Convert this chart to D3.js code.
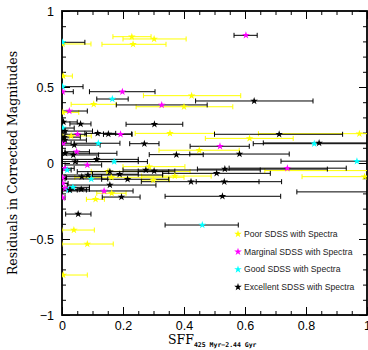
<!DOCTYPE html>
<html>
<head>
<meta charset="utf-8">
<script src="https://cdnjs.cloudflare.com/ajax/libs/d3/7.8.5/d3.min.js"></script>
<style>
  body { margin: 0; background: #fff; }
  svg { display: block; }
  .tick text { font-family: "Liberation Sans", Arial, sans-serif; font-size: 12.5px; fill: #000; }
</style>
</head>
<body>
<div id="chart"></div>
<script>
// each row: [sff, residual, errLow, errHigh]
var poor = [
    [0.229, 0.831, 0.167, 0.292],
    [0.302, 0.816, 0.200, 0.407],
    [0.233, 0.781, 0.131, 0.341],
    [0.002, 0.783, 0.000, 0.095],
    [0.004, 0.572, 0.000, 0.034],
    [0.425, 0.443, 0.267, 0.586],
    [0.104, 0.386, 0.030, 0.178],
    [0.400, 0.370, 0.243, 0.560],
    [0.003, 0.333, 0.000, 0.055],
    [0.354, 0.195, 0.240, 0.500],
    [0.975, 0.193, 0.644, 1.050],
    [0.615, 0.162, 0.470, 0.758],
    [0.450, 0.084, 0.318, 0.581],
    [0.030, 0.178, 0.003, 0.096],
    [0.992, -0.090, 0.787, 1.050],
    [1.060, -0.050, 0.665, 1.300],
    [0.286, -0.024, 0.200, 0.403],
    [0.370, -0.086, 0.261, 0.489],
    [0.299, -0.112, 0.261, 0.352],
    [0.151, -0.055, 0.096, 0.420],
    [0.162, -0.094, 0.042, 0.400],
    [0.163, -0.199, 0.114, 0.210],
    [0.110, -0.239, 0.080, 0.139],
    [0.039, -0.441, 0.000, 0.106],
    [0.083, -0.533, 0.000, 0.168],
    [0.004, -0.737, 0.000, 0.083]
];

var marginal = [
    [0.603, 0.840, 0.564, 0.640],
    [0.002, 0.469, 0.000, 0.037],
    [0.198, 0.469, 0.090, 0.305],
    [0.327, 0.382, 0.178, 0.476],
    [0.024, 0.342, 0.000, 0.083],
    [0.518, 0.110, 0.420, 0.614],
    [0.739, -0.034, 0.548, 0.932],
    [0.192, 0.189, 0.136, 0.230],
    [0.051, 0.189, 0.010, 0.080],
    [0.083, -0.013, 0.010, 0.130],
    [0.003, -0.134, 0.000, 0.020],
    [0.138, -0.184, 0.002, 0.233],
    [0.002, -0.228, 0.000, 0.010],
    [0.002, -0.097, 0.000, 0.015],
    [0.004, 0.130, 0.000, 0.030],
    [0.048, 0.074, 0.010, 0.090],
    [0.010, -0.035, 0.000, 0.040],
    [0.010, -0.166, 0.000, 0.030]
];

var good = [
    [0.002, 0.794, 0.000, 0.075],
    [0.002, 0.502, 0.000, 0.069],
    [0.165, 0.421, 0.114, 0.217],
    [0.827, 0.127, 0.627, 1.050],
    [0.967, 0.012, 0.718, 1.050],
    [0.460, -0.408, 0.338, 0.578],
    [0.003, 0.230, 0.000, 0.040],
    [0.017, -0.046, 0.000, 0.030],
    [0.096, -0.105, 0.010, 0.150],
    [0.036, -0.160, 0.000, 0.090],
    [0.119, 0.130, 0.040, 0.190],
    [0.171, 0.009, 0.050, 0.280],
    [0.021, -0.178, 0.000, 0.050]
];

var excellent = [
    [0.630, 0.408, 0.438, 0.823],
    [0.061, 0.257, 0.026, 0.095],
    [0.303, 0.255, 0.210, 0.396],
    [0.712, 0.189, 0.500, 0.920],
    [0.270, 0.127, 0.222, 0.318],
    [0.375, 0.055, 0.286, 0.463],
    [0.582, 0.059, 0.419, 0.745],
    [0.843, 0.132, 0.660, 1.050],
    [0.117, 0.195, 0.075, 0.176],
    [0.152, 0.191, 0.136, 0.228],
    [0.275, -0.046, 0.200, 0.650],
    [0.302, -0.053, 0.250, 0.370],
    [0.534, -0.040, 0.444, 0.870],
    [0.507, -0.068, 0.330, 0.683],
    [0.423, -0.123, 0.260, 0.646],
    [0.532, -0.123, 0.440, 0.720],
    [0.526, -0.219, 0.338, 0.717],
    [0.215, -0.107, 0.130, 0.350],
    [0.195, -0.224, 0.132, 0.256],
    [0.053, -0.336, 0.012, 0.095],
    [0.063, -0.173, 0.000, 0.090],
    [0.085, -0.079, 0.000, 0.330],
    [0.189, -0.074, 0.100, 0.250],
    [1.060, -0.190, 0.770, 1.300],
    [0.010, 0.064, 0.000, 0.180],
    [0.037, 0.053, 0.000, 0.120],
    [0.114, 0.024, 0.000, 0.250],
    [0.043, 0.009, 0.000, 0.250],
    [0.065, -0.090, 0.010, 0.130],
    [0.157, -0.057, 0.050, 0.350],
    [0.010, 0.151, 0.000, 0.080],
    [0.007, 0.170, 0.000, 0.060],
    [0.040, 0.118, 0.000, 0.125],
    [0.157, -0.145, 0.017, 0.308],
    [0.026, -0.178, 0.000, 0.080],
    [0.005, 0.270, 0.000, 0.050],
    [0.010, 0.210, 0.000, 0.100]
];

var groups = [
    {name: "Poor SDSS with Spectra", rows: poor, color: "#ffff00", bar: "#ffff00"},
    {name: "Marginal SDSS with Spectra", rows: marginal, color: "#ff00ff", bar: "#000"},
    {name: "Good SDSS with Spectra", rows: good, color: "#00ffff", bar: "#000"},
    {name: "Excellent SDSS with Spectra", rows: excellent, color: "#000", bar: "#000"}
];

var xTicks = [0, 0.2, 0.4, 0.6, 0.8, 1];
var yTicks = [-1, -0.5, 0, 0.5, 1];

var width = 368, height = 350,
    m = {left: 62, right: 367, top: 11, bottom: 315};

var x = d3.scaleLinear().domain([0, 1]).range([m.left, m.right]);
var y = d3.scaleLinear().domain([-1, 1]).range([m.bottom, m.top]);

var svg = d3.select("#chart").append("svg")
    .attr("width", width)
    .attr("height", height);

svg.append("defs").append("clipPath").attr("id", "plot")
    .append("rect")
    .attr("x", m.left).attr("y", m.top)
    .attr("width", m.right - m.left).attr("height", m.bottom - m.top);

var fmt = d3.format("");

// axes with inward ticks on all four sides
function minor(scale, step) {
    return d3.range(scale.domain()[0], scale.domain()[1] + 1e-9, step);
}

svg.append("g").attr("transform", "translate(0," + m.bottom + ")")
    .call(d3.axisBottom(x).tickValues(minor(x, 0.05)).tickSize(-4).tickFormat(""));
svg.append("g").attr("transform", "translate(0," + m.bottom + ")")
    .call(d3.axisBottom(x).tickValues(xTicks).tickSize(-8).tickPadding(6).tickFormat(fmt));
svg.append("g").attr("transform", "translate(0," + m.top + ")")
    .call(d3.axisTop(x).tickValues(minor(x, 0.05)).tickSize(-4).tickFormat(""));
svg.append("g").attr("transform", "translate(0," + m.top + ")")
    .call(d3.axisTop(x).tickValues(xTicks).tickSize(-8).tickFormat(""));

svg.append("g").attr("transform", "translate(" + m.left + ",0)")
    .call(d3.axisLeft(y).tickValues(minor(y, 0.1)).tickSize(-4).tickFormat(""));
svg.append("g").attr("transform", "translate(" + m.left + ",0)")
    .call(d3.axisLeft(y).tickValues(yTicks).tickSize(-8).tickPadding(8).tickFormat(fmt));
svg.append("g").attr("transform", "translate(" + m.right + ",0)")
    .call(d3.axisRight(y).tickValues(minor(y, 0.1)).tickSize(-4).tickFormat(""));
svg.append("g").attr("transform", "translate(" + m.right + ",0)")
    .call(d3.axisRight(y).tickValues(yTicks).tickSize(-8).tickFormat(""));

svg.selectAll(".domain").remove();
svg.selectAll(".tick line").attr("stroke", "#000").attr("stroke-width", 1);

// frame
svg.append("rect")
    .attr("x", m.left).attr("y", m.top)
    .attr("width", m.right - m.left).attr("height", m.bottom - m.top)
    .attr("fill", "none").attr("stroke", "#000").attr("stroke-width", 1.8);

var plot = svg.append("g").attr("clip-path", "url(#plot)");

// error bars
groups.forEach(function(g) {
    var bars = plot.append("g").selectAll("g").data(g.rows).enter().append("g")
        .attr("stroke", g.bar).attr("stroke-width", 1);
    bars.append("line")
        .attr("x1", function(d) { return x(d[2]); })
        .attr("x2", function(d) { return x(d[3]); })
        .attr("y1", function(d) { return y(d[1]); })
        .attr("y2", function(d) { return y(d[1]); });
    bars.append("line")
        .attr("x1", function(d) { return x(d[2]); })
        .attr("x2", function(d) { return x(d[2]); })
        .attr("y1", function(d) { return y(d[1]) - 2.5; })
        .attr("y2", function(d) { return y(d[1]) + 2.5; });
    bars.append("line")
        .attr("x1", function(d) { return x(d[3]); })
        .attr("x2", function(d) { return x(d[3]); })
        .attr("y1", function(d) { return y(d[1]) - 2.5; })
        .attr("y2", function(d) { return y(d[1]) + 2.5; });
});

var star = d3.symbol().type(d3.symbolStar).size(18);

groups.forEach(function(g) {
    plot.append("g").selectAll("path").data(g.rows).enter().append("path")
        .attr("d", star)
        .attr("transform", function(d) { return "translate(" + x(d[0]) + "," + y(d[1]) + ")"; })
        .attr("fill", g.color);
});

// legend
var legend = svg.append("g").attr("class", "legend");
groups.forEach(function(g, i) {
    var ly = 234 + i * 17.7;
    legend.append("path")
        .attr("d", star)
        .attr("transform", "translate(238," + ly + ")")
        .attr("fill", g.color);
    legend.append("text")
        .attr("x", 244)
        .attr("y", ly + 3)
        .style("font-family", "Liberation Sans, Arial, sans-serif")
        .style("font-size", "8.6px")
        .style("fill", "#222")
        .text(g.name);
});

// axis titles
svg.append("text")
    .attr("transform", "translate(17," + (m.top + m.bottom) / 2 + ") rotate(-90)")
    .attr("text-anchor", "middle")
    .style("font-family", "DejaVu Serif, serif")
    .style("font-size", "12.5px")
    .text("Residuals in Corrected Magnitudes");

var xl = svg.append("text")
    .attr("x", 168)
    .attr("y", 344)
    .style("font-family", "DejaVu Serif, serif")
    .style("font-size", "12.5px");
xl.append("tspan").text("SFF");
xl.append("tspan")
    .attr("dy", 3)
    .style("font-size", "6.5px")
    .style("font-weight", "bold")
    .style("font-family", "DejaVu Sans Mono, monospace")
    .text("425 Myr\u22122.44 Gyr");
</script>
</body>
</html>
